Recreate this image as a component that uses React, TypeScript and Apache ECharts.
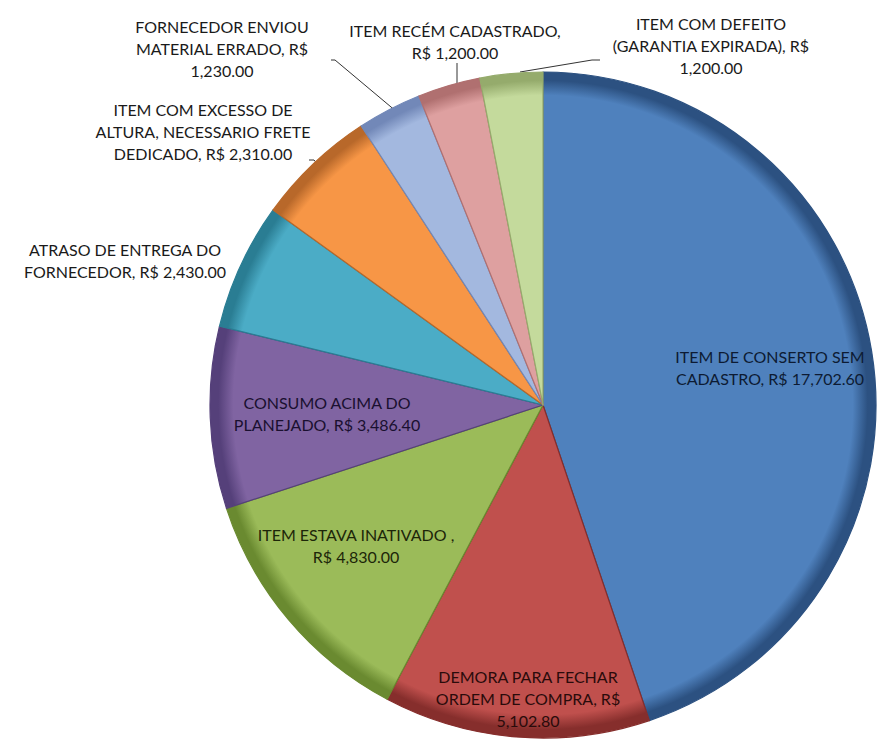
import React, { useEffect, useRef } from "react";
import * as echarts from "echarts";

const categories = [
  "ITEM DE CONSERTO SEM CADASTRO",
  "DEMORA PARA FECHAR ORDEM DE COMPRA",
  "ITEM ESTAVA INATIVADO ",
  "CONSUMO ACIMA DO PLANEJADO",
  "ATRASO DE ENTREGA DO FORNECEDOR",
  "ITEM COM EXCESSO DE ALTURA, NECESSARIO FRETE DEDICADO",
  "FORNECEDOR ENVIOU MATERIAL ERRADO",
  "ITEM RECÉM CADASTRADO",
  "ITEM COM DEFEITO (GARANTIA EXPIRADA)",
];
const values = [17702.6, 5102.8, 4830.0, 3486.4, 2430.0, 2310.0, 1230.0, 1200.0, 1200.0];

const colors = ["#4f81bd", "#c0504d", "#9bbb59", "#8064a2", "#4bacc6", "#f79646", "#a3b8df", "#dea0a0", "#c4da9c"];
const edgeColors = ["#2c5181", "#862e2c", "#6a8a30", "#55407a", "#2a7d93", "#b8682a", "#7288b8", "#b07070", "#95ab6c"];
const labelColors = ["#0d1b33", "#2a0b0b", "#1d2609", "#1a1030", "#1a1a1a", "#1a1a1a", "#1a1a1a", "#1a1a1a", "#1a1a1a"];
// number of words on each line of each label
const lineWords = [[4, 3], [3, 4, 1], [4, 2], [3, 3], [4, 3], [4, 3, 3], [2, 3, 1], [3, 2], [3, 3, 1]];
const labelCenters = [
  [770, 367],
  [528, 698],
  [356, 545],
  [327, 413],
  [125, 260],
  [203, 131],
  [222, 48],
  [455, 41],
  [711, 45],
];
const leaderLines: (number[][] | null)[] = [
  null,
  null,
  null,
  null,
  null,
  [[320, 167], [314, 160], [309, 160]],
  [[397, 112], [335, 60], [331, 60]],
  [[457, 87], [457, 75], [457, 63]],
  [[520, 72], [592, 60], [600, 60]],
];

const CX = 543;
const CY = 405;
const R = 333;

function fmt(v: number) {
  return v.toLocaleString("en-US", { minimumFractionDigits: 2, maximumFractionDigits: 2 });
}

function labelText(i: number) {
  const words = `${categories[i]}, R$ ${fmt(values[i])}`.split(/ +/);
  const lines: string[] = [];
  let k = 0;
  for (const n of lineWords[i]) {
    lines.push(words.slice(k, k + n).join(" "));
    k += n;
  }
  return lines.join("\n");
}

export default function App() {
  const ref = useRef<HTMLDivElement>(null);
  useEffect(() => {
    if (!ref.current) return;
    const chart = echarts.init(ref.current, undefined, { renderer: "svg" });
    const data = categories.map((name, i) => ({
      name,
      value: values[i],
      itemStyle: {
        color: {
          type: "radial",
          x: CX,
          y: CY,
          r: R,
          global: true,
          colorStops: [
            { offset: 0, color: colors[i] },
            { offset: 0.93, color: colors[i] },
            { offset: 0.975, color: edgeColors[i] },
            { offset: 1, color: edgeColors[i] },
          ],
        },
        borderColor: edgeColors[i],
        borderWidth: 1.2,
      },
      label: {
        color: labelColors[i],
      },
      labelLine: { show: leaderLines[i] !== null },
    }));
    chart.setOption({
      animation: false,
      backgroundColor: "#ffffff",
      series: [
        {
          type: "pie",
          center: [CX, CY],
          radius: [0, R],
          startAngle: 90,
          clockwise: true,
          avoidLabelOverlap: false,
          data,
          label: {
            show: true,
            position: "outside",
            fontFamily: "Lato",
            fontSize: 16,
            lineHeight: 22,
            align: "center",
            formatter: (p: any) => labelText(p.dataIndex),
          },
          labelLine: {
            show: true,
            lineStyle: { color: "#333333", width: 1 },
          },
          labelLayout: (params: any) => {
            const i = params.dataIndex;
            const c = labelCenters[i];
            const out: any = { x: c[0], y: c[1], align: "center", verticalAlign: "middle" };
            if (leaderLines[i]) out.labelLinePoints = leaderLines[i];
            return out;
          },
        },
      ],
    });
    return () => chart.dispose();
  }, []);
  return (
    <div
      ref={ref}
      style={{ position: "absolute", left: 0, top: 0, width: 879, height: 742, background: "#fff" }}
    />
  );
}
